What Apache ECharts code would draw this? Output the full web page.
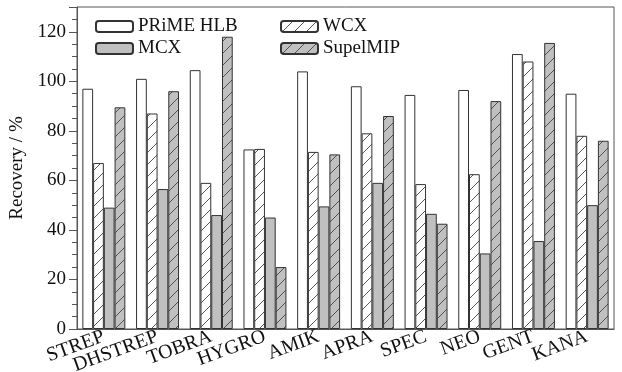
<!DOCTYPE html>
<html><head><meta charset="utf-8">
<script src="https://cdn.jsdelivr.net/npm/echarts@6/dist/echarts.min.js"></script>
<style>html,body{margin:0;padding:0;background:#fff}#c{width:622px;height:372px}</style>
</head><body><div id="c"></div>
<script>
var categories = ['STREP','DHSTREP','TOBRA','HYGRO','AMIK','APRA','SPEC','NEO','GENT','KANA'];
var seriesNames = ['PRiME HLB','WCX','MCX','SupelMIP'];
var hlb = [97, 101, 104.5, 72.5, 104, 98, 94.5, 96.5, 111, 95];
var wcx = [67, 87, 59, 72.7, 71.5, 79, 58.5, 62.5, 108, 78];
var mcx = [49, 56.5, 46, 45, 49.5, 59, 46.5, 30.5, 35.5, 50];
var supel = [89.5, 96, 118, 25, 70.5, 86, 42.5, 92, 115.5, 76];
var yTicks = [0, 20, 40, 60, 80, 100, 120];

function hatch(bg){
  var c = document.createElement('canvas');
  c.width = 12; c.height = 12;
  var g = c.getContext('2d');
  g.fillStyle = bg; g.fillRect(0,0,12,12);
  g.strokeStyle = '#444'; g.lineWidth = 0.9;
  g.beginPath(); g.moveTo(-2,14); g.lineTo(14,-2); g.stroke();
  return {image: c, repeat: 'repeat'};
}
var font = 'Liberation Serif';
var border = {borderColor:'#333', borderWidth:1};
function bar(name, data, color){
  return {name:name, type:'bar', data:data, barGap:'0%', barCategoryGap:'20%',
    itemStyle:Object.assign({color:color}, border)};
}
var chart = echarts.init(document.getElementById('c'), null, {renderer:'canvas'});
var legText = {fontFamily:font, fontSize:19, color:'#111', lineHeight:19};
chart.setOption({
  animation:false,
  textStyle:{fontFamily:font},
  grid:{left:77, right:8, top:7, bottom:43, show:true, borderColor:'#555', borderWidth:1,
    containLabel:false, outerBoundsMode:'none'},
  legend:[
    {data:['PRiME HLB','MCX'], orient:'vertical', left:90, top:12, itemWidth:37, itemHeight:11, itemGap:3, textStyle:legText},
    {data:['WCX','SupelMIP'], orient:'vertical', left:275, top:12, itemWidth:37, itemHeight:11, itemGap:3, textStyle:legText}
  ],
  xAxis:{type:'category', data:categories,
    axisLine:{lineStyle:{color:'#555', width:1}}, axisTick:{show:false},
    axisLabel:{rotate:20, fontFamily:font, fontSize:20, color:'#111', margin:7, interval:0}},
  yAxis:{type:'value', min:0, max:130, interval:20,
    name:'Recovery / %', nameLocation:'middle', nameGap:47, nameRotate:90,
    nameTextStyle:{fontFamily:font, fontSize:19, color:'#111'},
    axisLine:{show:true, lineStyle:{color:'#555'}},
    axisTick:{show:true, inside:false, length:8, lineStyle:{color:'#555'}},
    minorTick:{show:true, splitNumber:4, length:5, lineStyle:{color:'#555'}},
    splitLine:{show:false},
    axisLabel:{fontFamily:font, fontSize:19, color:'#111', margin:11,
      formatter:function(v){return yTicks.indexOf(v)>=0 ? String(v) : '';}}},
  series:[
    bar(seriesNames[0], hlb, '#ffffff'),
    bar(seriesNames[1], wcx, hatch('#ffffff')),
    bar(seriesNames[2], mcx, '#c0c0c0'),
    bar(seriesNames[3], supel, hatch('#c0c0c0'))
  ]
});
</script></body></html>
